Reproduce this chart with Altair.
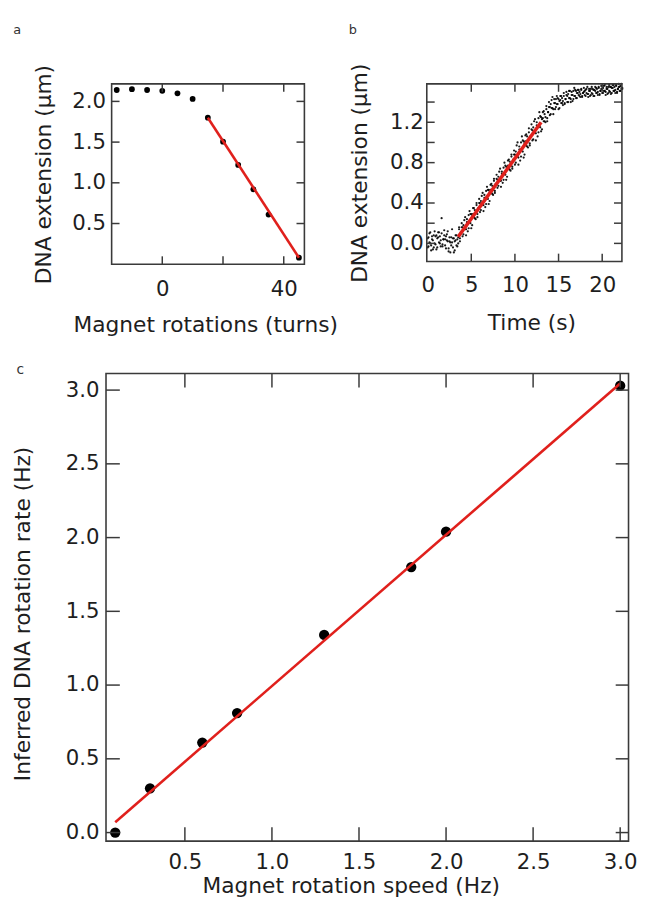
import altair as alt
import pandas as pd

FONT = "DejaVu Sans"
INK = "#1e1e1e"
FRAME = "#3a3a3a"
RED = "#e0201c"
LABEL_SIZE = 21.5
TITLE_SIZE = 22

# ---------------- panel a ----------------
A_TURNS = [-15, -10, -5, 0, 5, 10, 15, 20, 25, 30, 35, 45]
A_EXTENSION_UM = [2.14, 2.15, 2.14, 2.13, 2.10, 2.03, 1.80, 1.505, 1.22, 0.92, 0.61, 0.08]
A_FIT_TURNS = [15, 45]
A_FIT_EXTENSION_UM = [1.80, 0.08]
A_X_TICKS = [0, 20, 40]
A_X_LABELS = [0, 40]
A_Y_TICKS = [0.5, 1.0, 1.5, 2.0]

# ---------------- panel b ----------------
B_TIME_S = [
    0.0, 0.1, 0.2, 0.3, 0.4, 0.5, 0.6, 0.7, 0.8, 0.9,
    1.0, 1.1, 1.2, 1.3, 1.4, 1.5, 1.6, 1.7, 1.8, 1.9,
    2.0, 2.1, 2.2, 2.3, 2.4, 2.5, 2.6, 2.7, 2.8, 2.9,
    3.0, 3.1, 3.2, 3.3, 3.4, 3.5, 3.6, 3.7, 3.8, 3.9,
    4.0, 4.1, 4.2, 4.3, 4.4, 4.5, 4.6, 4.7, 4.8, 4.9,
    5.0, 5.1, 5.2, 5.3, 5.4, 5.5, 5.6, 5.7, 5.8, 5.9,
    6.0, 6.1, 6.2, 6.3, 6.4, 6.5, 6.6, 6.7, 6.8, 6.9,
    7.0, 7.1, 7.2, 7.3, 7.4, 7.5, 7.6, 7.7, 7.8, 7.9,
    8.0, 8.1, 8.2, 8.3, 8.4, 8.5, 8.6, 8.7, 8.8, 8.9,
    9.0, 9.1, 9.2, 9.3, 9.4, 9.5, 9.6, 9.7, 9.8, 9.9,
    10.0, 10.1, 10.2, 10.3, 10.4, 10.5, 10.6, 10.7, 10.8, 10.9,
    11.0, 11.1, 11.2, 11.3, 11.4, 11.5, 11.6, 11.7, 11.8, 11.9,
    12.0, 12.1, 12.2, 12.3, 12.4, 12.5, 12.6, 12.7, 12.8, 12.9,
    13.0, 13.1, 13.2, 13.3, 13.4, 13.5, 13.6, 13.7, 13.8, 13.9,
    14.0, 14.1, 14.2, 14.3, 14.4, 14.5, 14.6, 14.7, 14.8, 14.9,
    15.0, 15.1, 15.2, 15.3, 15.4, 15.5, 15.6, 15.7, 15.8, 15.9,
    16.0, 16.1, 16.2, 16.3, 16.4, 16.5, 16.6, 16.7, 16.8, 16.9,
    17.0, 17.1, 17.2, 17.3, 17.4, 17.5, 17.6, 17.7, 17.8, 17.9,
    18.0, 18.1, 18.2, 18.3, 18.4, 18.5, 18.6, 18.7, 18.8, 18.9,
    19.0, 19.1, 19.2, 19.3, 19.4, 19.5, 19.6, 19.7, 19.8, 19.9,
    20.0, 20.1, 20.2, 20.3, 20.4, 20.5, 20.6, 20.7, 20.8, 20.9,
    21.0, 21.1, 21.2, 21.3, 21.4, 21.5, 21.6, 21.7, 21.8, 21.9,
    22.0, 22.1, 22.2, 22.3,
]
B_EXTENSION_1 = [
    0.05, -0.03, 0.10, 0.00, -0.07, 0.07, 0.03, -0.04, 0.12, -0.01,
    0.08, -0.04, 0.06, 0.11, 0.00, 0.03, 0.10, -0.03, 0.04, 0.13,
    0.04, -0.05, 0.09, 0.02, -0.08, 0.06, 0.01, -0.02, 0.14, -0.04,
    0.05, -0.07, 0.03, 0.08, -0.03, 0.06, 0.14, 0.02, 0.10, 0.20,
    0.16, 0.09, 0.23, 0.14, 0.08, 0.24, 0.21, 0.15, 0.32, 0.20,
    0.29, 0.18, 0.29, 0.35, 0.25, 0.30, 0.38, 0.26, 0.34, 0.44,
    0.40, 0.33, 0.47, 0.38, 0.32, 0.48, 0.45, 0.39, 0.56, 0.44,
    0.53, 0.42, 0.53, 0.59, 0.49, 0.53, 0.62, 0.50, 0.58, 0.68,
    0.63, 0.57, 0.71, 0.62, 0.56, 0.71, 0.69, 0.63, 0.80, 0.68,
    0.76, 0.66, 0.77, 0.83, 0.73, 0.77, 0.86, 0.74, 0.82, 0.92,
    0.88, 0.80, 0.97, 0.86, 0.78, 0.96, 0.93, 0.86, 1.06, 0.91,
    1.01, 0.88, 1.01, 1.08, 0.96, 1.01, 1.10, 0.97, 1.06, 1.18,
    1.12, 1.03, 1.21, 1.10, 1.02, 1.20, 1.16, 1.10, 1.30, 1.15,
    1.25, 1.13, 1.24, 1.31, 1.21, 1.25, 1.33, 1.21, 1.30, 1.40,
    1.35, 1.28, 1.42, 1.34, 1.28, 1.43, 1.39, 1.35, 1.46, 1.38,
    1.43, 1.34, 1.42, 1.46, 1.39, 1.41, 1.46, 1.38, 1.43, 1.50,
    1.46, 1.40, 1.51, 1.44, 1.40, 1.50, 1.47, 1.43, 1.54, 1.46,
    1.51, 1.44, 1.49, 1.52, 1.46, 1.48, 1.52, 1.45, 1.49, 1.54,
    1.51, 1.46, 1.53, 1.48, 1.45, 1.53, 1.51, 1.47, 1.55, 1.48,
    1.52, 1.46, 1.51, 1.54, 1.49, 1.50, 1.54, 1.47, 1.51, 1.56,
    1.53, 1.49, 1.56, 1.51, 1.47, 1.55, 1.53, 1.49, 1.57, 1.50,
    1.55, 1.49, 1.54, 1.57, 1.51, 1.52, 1.56, 1.49, 1.53, 1.58,
    1.55, 1.51, 1.58, 1.53,
]
B_EXTENSION_2 = [
    -0.04, 0.06, 0.01, 0.11, -0.02, 0.04, -0.06, 0.08, 0.00, 0.07,
    -0.06, 0.05, 0.11, 0.01, 0.07, -0.03, 0.25, -0.01, 0.04, 0.08,
    -0.02, 0.07, 0.03, 0.12, -0.05, 0.02, -0.09, 0.06, 0.01, 0.05,
    -0.09, 0.02, 0.08, -0.02, 0.04, 0.00, 0.16, 0.05, 0.11, 0.16,
    0.07, 0.18, 0.15, 0.26, 0.14, 0.21, 0.12, 0.28, 0.21, 0.29,
    0.15, 0.27, 0.35, 0.26, 0.33, 0.24, 0.40, 0.29, 0.35, 0.40,
    0.31, 0.42, 0.39, 0.50, 0.38, 0.45, 0.36, 0.52, 0.45, 0.53,
    0.39, 0.51, 0.58, 0.50, 0.57, 0.48, 0.64, 0.52, 0.59, 0.64,
    0.55, 0.66, 0.62, 0.74, 0.62, 0.69, 0.60, 0.75, 0.69, 0.77,
    0.63, 0.75, 0.82, 0.74, 0.81, 0.72, 0.88, 0.76, 0.83, 0.88,
    0.78, 0.91, 0.86, 1.00, 0.85, 0.93, 0.82, 1.00, 0.93, 1.02,
    0.85, 0.99, 1.07, 0.97, 1.06, 0.95, 1.14, 0.99, 1.06, 1.13,
    1.02, 1.15, 1.10, 1.23, 1.09, 1.17, 1.06, 1.24, 1.16, 1.26,
    1.11, 1.23, 1.30, 1.21, 1.28, 1.20, 1.36, 1.24, 1.30, 1.35,
    1.27, 1.38, 1.34, 1.45, 1.33, 1.39, 1.33, 1.43, 1.38, 1.44,
    1.33, 1.41, 1.46, 1.39, 1.44, 1.37, 1.49, 1.39, 1.43, 1.47,
    1.40, 1.48, 1.44, 1.51, 1.43, 1.47, 1.41, 1.51, 1.46, 1.52,
    1.44, 1.49, 1.52, 1.47, 1.50, 1.45, 1.53, 1.46, 1.49, 1.50,
    1.47, 1.52, 1.49, 1.55, 1.48, 1.51, 1.46, 1.53, 1.49, 1.53,
    1.46, 1.52, 1.55, 1.49, 1.53, 1.47, 1.55, 1.48, 1.51, 1.53,
    1.49, 1.54, 1.51, 1.57, 1.50, 1.53, 1.48, 1.55, 1.51, 1.55,
    1.48, 1.54, 1.57, 1.51, 1.55, 1.49, 1.57, 1.50, 1.53, 1.55,
    1.51, 1.56, 1.53, 1.54,
]
B_FIT_TIME_S = [3.5, 13.0]
B_FIT_EXTENSION_UM = [0.066, 1.20]
B_X_TICKS = [5, 10, 15, 20]
B_X_LABELS = [0, 5, 10, 15, 20]
B_Y_TICKS = [0.0, 0.2, 0.4, 0.6, 0.8, 1.0, 1.2, 1.4]
B_Y_LABELS = [0.0, 0.4, 0.8, 1.2]

# ---------------- panel c ----------------
C_SPEED_HZ = [0.1, 0.3, 0.6, 0.8, 1.3, 1.8, 2.0, 3.0]
C_RATE_HZ = [0.0, 0.30, 0.61, 0.81, 1.34, 1.80, 2.04, 3.03]
C_FIT_SPEED_HZ = [0.1, 3.0]
C_FIT_RATE_HZ = [0.07, 3.045]
C_X_TICKS = [0.5, 1.0, 1.5, 2.0, 2.5, 3.0]
C_Y_TICKS = [0.0, 0.5, 1.0, 1.5, 2.0, 2.5, 3.0]


def axis(values, fmt, title, label_pad, title_pad, **extra):
    return alt.Axis(values=values, format=fmt, title=title, ticks=False, tickSize=0,
                    domain=False, grid=False, labelPadding=label_pad,
                    titlePadding=title_pad, labelFlush=False, labelOverlap=False,
                    **extra)


def panel(points, fit, xdom, ydom, w, h, x0, xticks, yticks, tick_len, right_len,
          xaxis, yaxis, psize, pcolor, popacity, red_width, letter, lx, ly, lsize):
    xs = alt.Scale(domain=xdom, nice=False, zero=False)
    ys = alt.Scale(domain=ydom, nice=False, zero=False)
    X = lambda: alt.X("x:Q", scale=xs, axis=xaxis)
    Y = lambda: alt.Y("y:Q", scale=ys, axis=yaxis)
    layers = []
    for df in points:
        layers.append(
            alt.Chart(df).mark_circle(size=psize, color=pcolor, opacity=popacity)
            .encode(x=X(), y=Y())
        )
    layers.append(alt.Chart(fit).mark_line(color=RED, strokeWidth=red_width).encode(x=X(), y=Y()))
    xt = pd.DataFrame({"x": xticks})
    yt = pd.DataFrame({"y": yticks})
    style = dict(color=FRAME, strokeWidth=1.5)
    layers.append(alt.Chart(xt).mark_rule(**style).encode(
        x=X(), y=alt.value(h), y2=alt.value(h - tick_len)))
    layers.append(alt.Chart(xt).mark_rule(**style).encode(
        x=X(), y=alt.value(0), y2=alt.value(tick_len)))
    layers.append(alt.Chart(yt).mark_rule(**style).encode(
        y=Y(), x=alt.value(x0), x2=alt.value(x0 + tick_len)))
    layers.append(alt.Chart(yt).mark_rule(**style).encode(
        y=Y(), x=alt.value(w), x2=alt.value(w - right_len)))
    one = pd.DataFrame({"t": [letter]})
    layers.append(alt.Chart(one).mark_rect(filled=False, stroke=FRAME, strokeWidth=1.6).encode(
        x=alt.value(x0), x2=alt.value(w), y=alt.value(0), y2=alt.value(h)))
    layers.append(alt.Chart(one).mark_text(align="left", baseline="alphabetic", font=FONT,
                                           fontSize=lsize, color="#333333").encode(
        text="t:N", x=alt.value(lx), y=alt.value(ly)))
    return alt.layer(*layers).properties(width=w, height=h)


# panel a (plot area extended 5.7 px to the left of its frame, to line up with c)
a_pts = [pd.DataFrame({"x": A_TURNS, "y": A_EXTENSION_UM})]
a_fit = pd.DataFrame({"x": A_FIT_TURNS, "y": A_FIT_EXTENSION_UM})
chart_a = panel(
    a_pts, a_fit, [-18.53, 46.8], [0.0, 2.215], 201.0, 182.7, 5.7,
    A_X_TICKS, A_Y_TICKS, 8, 8,
    axis(A_X_LABELS, "d", "Magnet rotations (turns)", 14.4, 15),
    axis(A_Y_TICKS, ".1f", "DNA extension (\u03bcm)", 0.6, 16),
    34, "#000000", 1.0, 2.6, "a", -94, -50.7, 13,
)

b_pts = [pd.DataFrame({"x": B_TIME_S, "y": B_EXTENSION_1}),
         pd.DataFrame({"x": B_TIME_S, "y": B_EXTENSION_2})]
b_fit = pd.DataFrame({"x": B_FIT_TIME_S, "y": B_FIT_EXTENSION_UM})
chart_b = panel(
    b_pts, b_fit, [-0.1, 22.26], [-0.18, 1.58], 197.7, 180, 0,
    B_X_TICKS, B_Y_TICKS, 8, 8,
    axis(B_X_LABELS, "d", "Time (s)", 13.7, 17, titleX=106),
    axis(B_Y_LABELS, ".1f", "DNA extension (\u03bcm)", 3.5, 18),
    5, "#000000", 0.9, 3.6, "b", -79, -50.7, 13,
)

c_pts = [pd.DataFrame({"x": C_SPEED_HZ, "y": C_RATE_HZ})]
c_fit = pd.DataFrame({"x": C_FIT_SPEED_HZ, "y": C_FIT_RATE_HZ})
chart_c = panel(
    c_pts, c_fit, [0.047, 3.048], [-0.058, 3.112], 529.4, 473.7, 0,
    C_X_TICKS, C_Y_TICKS, 14, 13,
    axis(C_X_TICKS, ".1f", "Magnet rotation speed (Hz)", 11, 3, titleX=248),
    axis(C_Y_TICKS, ".1f", "Inferred DNA rotation rate (Hz)", 7, 31, titleY=243),
    110, "#000000", 1.0, 2.6, "c", -90.6, 0, 14,
)

row = alt.hconcat(chart_a, chart_b, spacing=124, bounds="flush")
chart = alt.vconcat(row, chart_c, spacing=27.5).properties(
    padding={"left": 3.3, "top": 10, "right": 0, "bottom": 0}
).configure_view(strokeWidth=0).configure_axis(
    labelFont=FONT, titleFont=FONT, labelFontSize=LABEL_SIZE, titleFontSize=TITLE_SIZE,
    labelColor=INK, titleColor=INK, titleFontWeight="normal",
)

chart.save("out.html", embed_options={"renderer": "svg", "actions": False})
